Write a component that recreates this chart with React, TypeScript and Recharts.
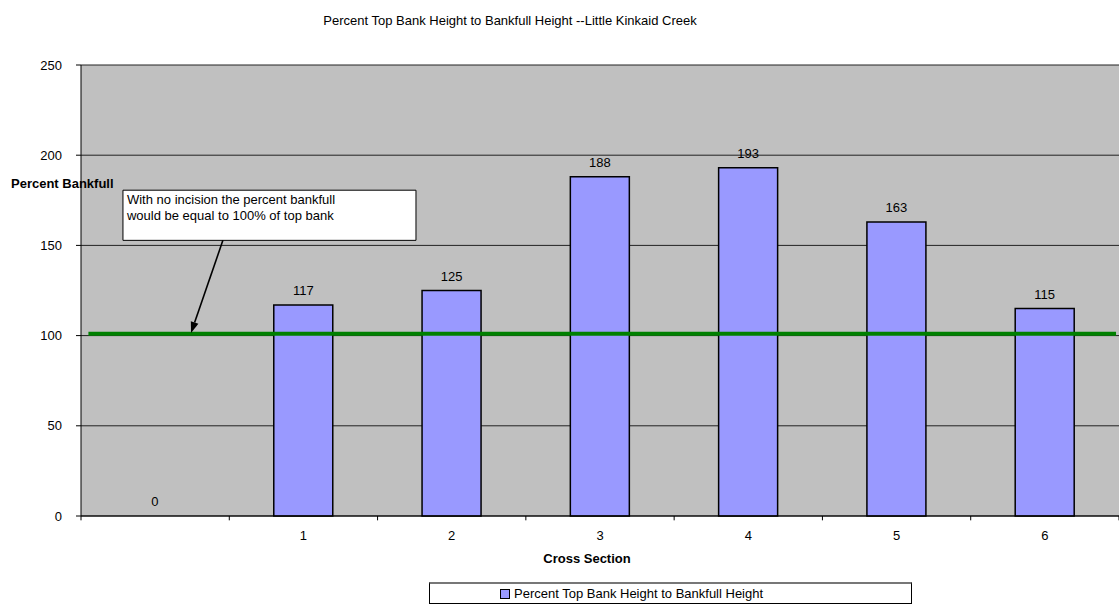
import {
  Bar,
  BarChart,
  CartesianGrid,
  Cell,
  Legend,
  ReferenceArea,
  ReferenceLine,
  XAxis,
  YAxis,
} from "recharts";

const FONT = "Arial, 'Liberation Sans', sans-serif";
const W = 1119;
const H = 614;

const sections = ["", "1", "2", "3", "4", "5", "6"];
const sectionPos = [0.5, 1.5, 2.5, 3.5, 4.5, 5.5, 6.5];
const percentTopBank = [0, 117, 125, 188, 193, 163, 115];
const yTicks = [0, 50, 100, 150, 200, 250];
const boundaryTicks = [0, 1, 2, 3, 4, 5, 6, 7];
const noteLines = ["With no incision the percent bankfull", "would be equal to 100% of top bank"];

const data = sections.map((s, i) => ({ section: s, pos: sectionPos[i], pct: percentTopBank[i] }));

const Arrow = (p: any) => {
  const { x1, y1, x2, y2 } = p;
  const ang = Math.atan2(y2 - y1, x2 - x1);
  const len = 11;
  const half = 4;
  const bx = x2 - len * Math.cos(ang);
  const by = y2 - len * Math.sin(ang);
  const nx = -Math.sin(ang) * half;
  const ny = Math.cos(ang) * half;
  return (
    <g>
      <line x1={x1} y1={y1} x2={bx} y2={by} stroke="#000" strokeWidth={1.6} />
      <polygon points={`${x2},${y2} ${bx + nx},${by + ny} ${bx - nx},${by - ny}`} fill="#000" />
    </g>
  );
};

const NoteLabel = ({ viewBox }: any) => (
  <g>
    {noteLines.map((t, i) => (
      <text key={i} x={viewBox.x + 4} y={viewBox.y + 14 + i * 16} fontSize={13} fill="#000">
        {t}
      </text>
    ))}
  </g>
);

// label sits ~10px above the bar top (zero bar: above the baseline)
const ValueLabel = (p: any) => (
  <text
    x={p.x + p.width / 2}
    y={p.value === 0 ? p.y + p.height - 10 : p.y - 10}
    textAnchor="middle"
    fontSize={13}
    fill="#000"
  >
    {String(p.value)}
  </text>
);

const LegendBox = () => (
  <div
    style={{
      boxSizing: "border-box",
      height: 22,
      border: "1px solid #000",
      borderTop: "2px solid #777",
      background: "#fff",
      display: "flex",
      alignItems: "center",
      paddingLeft: 70,
      fontSize: 13,
      fontFamily: FONT,
      color: "#000",
    }}
  >
    <span
      style={{
        display: "inline-block",
        boxSizing: "border-box",
        width: 10,
        height: 10,
        background: "#9999FF",
        border: "1.5px solid #000",
        marginRight: 4,
      }}
    />
    Percent Top Bank Height to Bankfull Height
  </div>
);

export default function App() {
  return (
    <div style={{ position: "absolute", left: 0, top: 0, width: W, height: H, fontFamily: FONT, background: "#fff" }}>
      <div style={{ position: "absolute", left: 0, top: 13, width: 1020, textAlign: "center", fontSize: 13, color: "#000" }}>
        Percent Top Bank Height to Bankfull Height --Little Kinkaid Creek
      </div>
      <BarChart
        width={W}
        height={H}
        data={data}
        margin={{ top: 65, right: 0, left: 0, bottom: 68 }}
        barCategoryGap="30%"
      >
        <CartesianGrid vertical={false} fill="#C0C0C0" stroke="#222" fillOpacity={1} />
        <XAxis xAxisId="num" type="number" dataKey="pos" domain={[0, 7]} allowDataOverflow hide />
        <XAxis
          xAxisId="cat"
          dataKey="section"
          height={30}
          stroke="#000"
          tickLine={false}
          tickSize={8}
          tickMargin={7}
          interval={0}
          tick={{ fill: "#000", fontSize: 13 }}
          label={() => (
            <text x={587} y={563} textAnchor="middle" fontSize={13} fontWeight="bold" fill="#000">
              Cross Section
            </text>
          )}
        />
        <YAxis
          width={81}
          domain={[0, 250]}
          ticks={yTicks}
          tickSize={5}
          tickMargin={14}
          stroke="#000"
          tick={{ fill: "#000", fontSize: 13 }}
          label={({ viewBox }: any) => (
            <text x={viewBox.x + 11} y={viewBox.y + 123} fontSize={13} fontWeight="bold" fill="#000">
              Percent Bankfull
            </text>
          )}
        />
        <Bar
          xAxisId="cat"
          dataKey="pct"
          fill="#9999FF"
          stroke="#000"
          strokeWidth={1.5}
          minPointSize={1}
          label={ValueLabel}
          isAnimationActive={false}
        >
          {data.map((d, i) => (
            <Cell
              key={i}
              fill={d.pct === 0 ? "none" : "#9999FF"}
              stroke={d.pct === 0 ? "none" : "#000"}
            />
          ))}
        </Bar>
        {boundaryTicks.map((t) => (
          <ReferenceLine
            key={t}
            xAxisId="num"
            segment={[
              { x: t, y: 0 },
              { x: t, y: -2.4 },
            ]}
            stroke="#000"
            ifOverflow="visible"
          />
        ))}
        <ReferenceLine
          xAxisId="num"
          segment={[
            { x: 0.05, y: 101 },
            { x: 6.98, y: 101 },
          ]}
          stroke="#008000"
          strokeWidth={4}
        />
        <ReferenceLine
          xAxisId="num"
          segment={[
            { x: 0.957, y: 152.8 },
            { x: 0.742, y: 101.5 },
          ]}
          shape={Arrow}
        />
        <ReferenceArea
          xAxisId="num"
          x1={0.283}
          x2={2.259}
          y1={152.8}
          y2={180.6}
          fill="#fff"
          fillOpacity={1}
          stroke="#000"
          strokeOpacity={1}
          label={NoteLabel}
        />
        <Legend
          layout="horizontal"
          verticalAlign="middle"
          align="center"
          wrapperStyle={{ left: 429, top: 582, width: 483, height: 22 }}
          content={LegendBox}
        />
      </BarChart>
    </div>
  );
}
